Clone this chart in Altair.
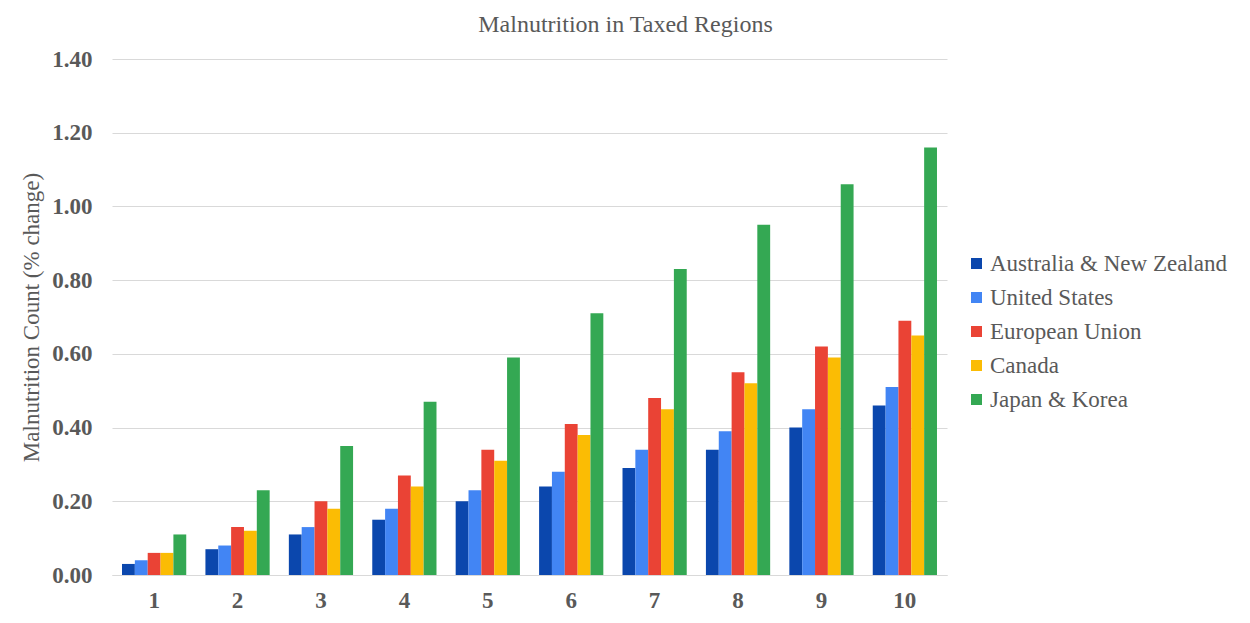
import altair as alt
import pandas as pd

groups = ["1", "2", "3", "4", "5", "6", "7", "8", "9", "10"]
series = ["Australia & New Zealand", "United States", "European Union", "Canada", "Japan & Korea"]
colors = ["#0B47AD", "#4285F4", "#EA4335", "#FBBC04", "#34A853"]

anz = [0.03, 0.07, 0.11, 0.15, 0.20, 0.24, 0.29, 0.34, 0.40, 0.46]
us = [0.04, 0.08, 0.13, 0.18, 0.23, 0.28, 0.34, 0.39, 0.45, 0.51]
eu = [0.06, 0.13, 0.20, 0.27, 0.34, 0.41, 0.48, 0.55, 0.62, 0.69]
ca = [0.06, 0.12, 0.18, 0.24, 0.31, 0.38, 0.45, 0.52, 0.59, 0.65]
jk = [0.11, 0.23, 0.35, 0.47, 0.59, 0.71, 0.83, 0.95, 1.06, 1.16]

y_ticks = [0.0, 0.2, 0.4, 0.6, 0.8, 1.0, 1.2, 1.4]

rows = []
for s, vals in zip(series, [anz, us, eu, ca, jk]):
    for g, v in zip(groups, vals):
        rows.append({"group": g, "series": s, "value": v})
df = pd.DataFrame(rows)

FONT = "Liberation Serif"
GRAY = "#595959"

chart = alt.Chart(df).mark_bar().encode(
    x=alt.X("group:N", sort=groups,
            scale=alt.Scale(paddingInner=0.23, paddingOuter=0.12),
            axis=alt.Axis(title=None, labelAngle=0, ticks=False, domainColor="#d9d9d9",
                          labelFont=FONT, labelFontSize=23, labelFontWeight="bold",
                          labelColor=GRAY, labelPadding=14, grid=False)),
    xOffset=alt.XOffset("series:N", sort=series, scale=alt.Scale(paddingInner=0, paddingOuter=0)),
    y=alt.Y("value:Q", scale=alt.Scale(domain=[0, 1.4], nice=False),
            axis=alt.Axis(title="Malnutrition Count (% change)", values=y_ticks, format=".2f",
                          domain=False, ticks=False, gridColor="#d9d9d9",
                          labelFont=FONT, labelFontSize=23, labelFontWeight="bold",
                          labelColor=GRAY, labelPadding=20,
                          titleFont=FONT, titleFontSize=23, titleFontWeight="normal",
                          titleColor=GRAY, titlePadding=8)),
    color=alt.Color("series:N", sort=series,
                    scale=alt.Scale(domain=series, range=colors),
                    legend=alt.Legend(title=None, orient="none", legendX=853, legendY=193,
                                      symbolType="square", symbolSize=121, symbolStrokeWidth=0,
                                      labelFont=FONT, labelFontSize=23, labelColor=GRAY,
                                      labelLimit=400, rowPadding=10, labelOffset=2)),
).properties(
    width=835,
    height=516,
    title=alt.TitleParams("Malnutrition in Taxed Regions", font=FONT, fontSize=24,
                          fontWeight="normal", color=GRAY, anchor="middle", dx=96, offset=11),
    autosize=alt.AutoSizeParams(type="none"),
    padding={"left": 112, "top": 59, "right": 303, "bottom": 48},
).configure(background="white").configure_view(stroke=None, strokeWidth=0)

chart.save("out.html", embed_options={"renderer": "svg", "actions": False})
